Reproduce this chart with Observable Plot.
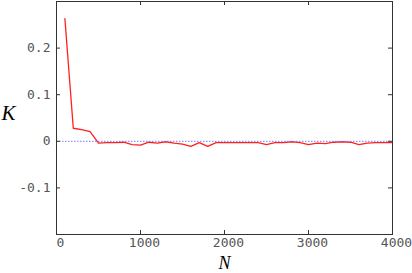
<!DOCTYPE html>
<html>
<head>
<meta charset="utf-8">
<script src="https://cdn.jsdelivr.net/npm/d3@7"></script>
<script src="https://cdn.jsdelivr.net/npm/@observablehq/plot@0.6"></script>
<style>
  html, body { margin: 0; padding: 0; background: #fff; }
</style>
</head>
<body>
<div id="chart"></div>
<script>
const N = [100, 200, 300, 400, 500, 600, 700, 800, 900, 1000,
           1100, 1200, 1300, 1400, 1500, 1600, 1700, 1800, 1900, 2000,
           2100, 2200, 2300, 2400, 2500, 2600, 2700, 2800, 2900, 3000,
           3100, 3200, 3300, 3400, 3500, 3600, 3700, 3800, 3900, 4000];
const K = [0.263, 0.028, 0.025, 0.021, -0.004, -0.003, -0.003, -0.002, -0.007, -0.008,
           -0.002, -0.004, -0.001, -0.004, -0.006, -0.011, -0.003, -0.011, -0.003, -0.003,
           -0.003, -0.003, -0.003, -0.003, -0.007, -0.003, -0.003, -0.001, -0.003, -0.007,
           -0.004, -0.005, -0.002, -0.001, -0.002, -0.007, -0.004, -0.003, -0.003, -0.003];
const xTicks = [0, 1000, 2000, 3000, 4000];
const yTicks = [-0.1, 0, 0.1, 0.2];
const xLabel = "N";
const yLabel = "K";

const data = N.map((n, i) => ({N: n, K: K[i]}));

const W = 412, H = 273, mL = 56, mR = 20, mT = 1, mB = 39;
const plotW = W - mL - mR, plotH = H - mT - mB;
const tick = 4;

const chart = Plot.plot({
  width: W, height: H,
  marginLeft: mL, marginRight: mR, marginTop: mT, marginBottom: mB,
  x: {domain: [0, 4000]},
  y: {domain: [-0.2, 0.3]},
  style: {fontFamily: "'DejaVu Sans Mono', monospace", fontSize: "13px", color: "#555", background: "#fff", overflow: "visible"},
  marks: [
    Plot.line(data, {x: "N", y: "K", stroke: "#ff2020", strokeWidth: 1.3}),
    Plot.ruleY([0], {stroke: "#7878ff", strokeDasharray: "1.5,1.5", strokeWidth: 1}),
    Plot.frame({stroke: "#333", strokeWidth: 1}),
    // inward ticks
    Plot.tickX(xTicks, {x: d => d, insetTop: plotH - tick, stroke: "#333"}),
    Plot.tickX(xTicks, {x: d => d, insetBottom: plotH - tick, stroke: "#333"}),
    Plot.tickY(yTicks, {y: d => d, insetRight: plotW - tick, stroke: "#333"}),
    Plot.tickY(yTicks, {y: d => d, insetLeft: plotW - tick, stroke: "#333"}),
    // labels
    Plot.axisX(xTicks, {anchor: "bottom", tickSize: 0, tickPadding: 3, dx: 4, tickFormat: d => String(d), label: null, fill: "#555"}),
    Plot.axisY(yTicks, {anchor: "left", tickSize: 0, tickPadding: 6, tickFormat: d => String(d), label: null, fill: "#555"}),
    Plot.text([xLabel], {text: d => d, frameAnchor: "bottom", dy: 29, lineAnchor: "middle", fontFamily: "'Liberation Serif', serif", fontStyle: "italic", fontSize: 18, fill: "#000"}),
    Plot.text([yLabel], {text: d => d, frameAnchor: "left", dx: -48, dy: -5, lineAnchor: "middle", textAnchor: "middle", fontFamily: "'Liberation Serif', serif", fontStyle: "italic", fontSize: 21, fill: "#000"})
  ]
});
document.getElementById("chart").appendChild(chart);
</script>
</body>
</html>
